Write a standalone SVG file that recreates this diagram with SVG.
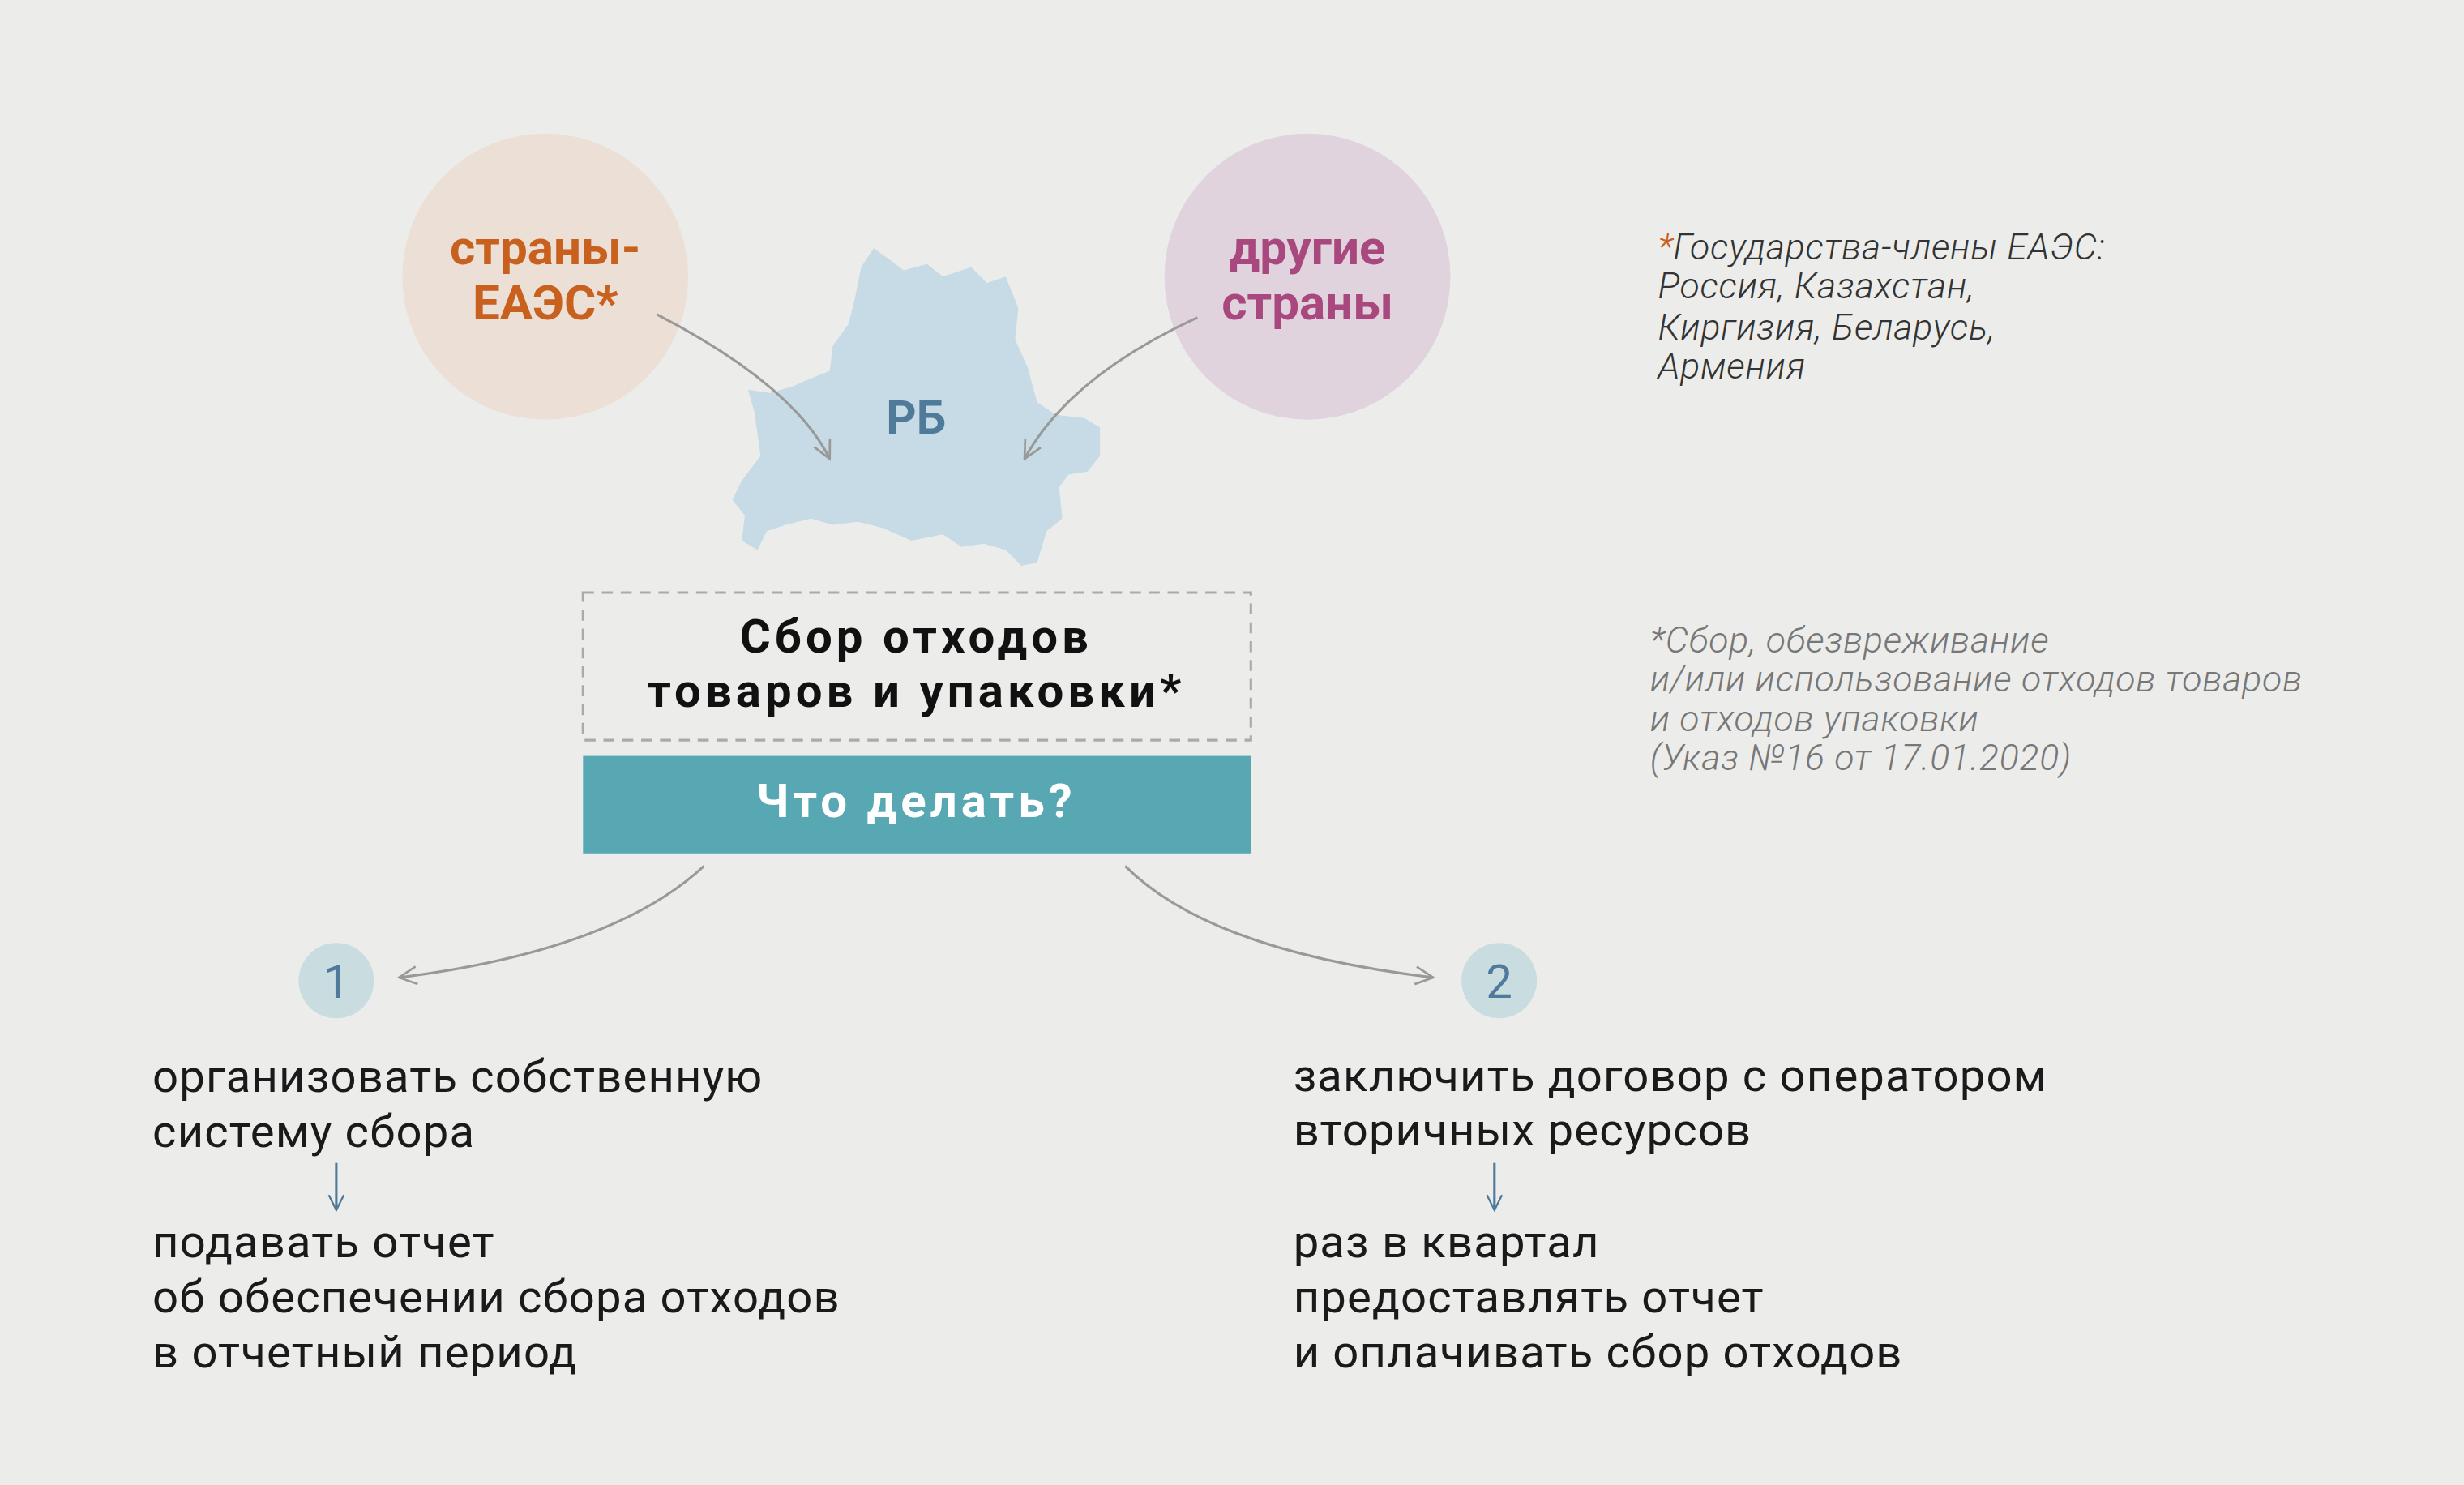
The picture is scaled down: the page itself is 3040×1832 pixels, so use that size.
<svg xmlns="http://www.w3.org/2000/svg" width="3040" height="1832" viewBox="0 0 3040 1832">
<defs>
<style>
.t{font-family:Roboto,"Noto Sans",sans-serif}
.b{font-weight:bold}
.ls{letter-spacing:2.6px}
.body{font-family:Roboto,"Noto Sans",sans-serif;font-size:29px;fill:#1a1a1a;letter-spacing:0.6px}
.note{font-family:Roboto,"Noto Sans",sans-serif;font-size:23px;font-style:italic;font-weight:300;letter-spacing:0.4px}
.con{fill:none;stroke:#999;stroke-width:1.6}
</style>
<marker id="ah" viewBox="0 0 20 20" refX="18" refY="10" markerWidth="14" markerHeight="14" markerUnits="userSpaceOnUse" orient="auto"><path d="M2,2 L18,10 L2,18" fill="none" stroke="#999" stroke-width="2"/></marker>
<marker id="ab" viewBox="0 0 20 20" refX="18" refY="10" markerWidth="12" markerHeight="12" markerUnits="userSpaceOnUse" orient="auto"><path d="M2,2 L18,10 L2,18" fill="none" stroke="#4f7a9a" stroke-width="2"/></marker>
</defs>
<rect width="3040" height="1832" fill="#ecedeb"/>
<g transform="scale(1.9388)">
<g id="map"><path d="M548,170 L556,158 L566,165 L575,172 L590,168 L600,176 L618,170 L628,180 L640,176 L648,196 L646,216 L654,234 L660,256 L672,264 L690,266 L700,272 L700,290 L692,300 L680,302 L674,310 L676,330 L666,338 L660,358 L650,360 L640,350 L626,346 L612,348 L600,340 L580,344 L562,336 L546,332 L530,334 L516,330 L500,334 L488,338 L482,350 L472,344 L474,328 L466,318 L472,306 L484,290 L480,262 L476,248 L490,250 L504,246 L518,240 L528,236 L530,220 L540,206 L544,190 Z" fill="#c6dbe6"/>
<text x="583" y="276" text-anchor="middle" class="t b" font-size="30" fill="#4f7a9a">РБ</text></g>
<g id="eaes"><circle cx="347" cy="176" r="91" fill="#ecdfd6"/>
<text x="347" y="168" text-anchor="middle" class="t b" font-size="31" fill="#c8601e">страны-</text>
<text x="347" y="203" text-anchor="middle" class="t b" font-size="31" fill="#c8601e">ЕАЭС*</text></g>
<g id="other"><circle cx="832" cy="176" r="91" fill="#e0d3de"/>
<text x="832" y="168" text-anchor="middle" class="t b" font-size="31" fill="#a8487e">другие</text>
<text x="832" y="203" text-anchor="middle" class="t b" font-size="31" fill="#a8487e">страны</text></g>
<g id="collect"><rect x="371" y="377" width="425" height="94" fill="none" stroke="#aaa" stroke-width="1.6" stroke-dasharray="7,5"/>
<text x="583" y="415" text-anchor="middle" class="t b ls" font-size="30" fill="#111">Сбор отходов</text>
<text x="583" y="450" text-anchor="middle" class="t b ls" font-size="30" fill="#111">товаров и упаковки*</text></g>
<g id="what"><rect x="371" y="481" width="425" height="62" fill="#58a8b3"/>
<text x="583" y="520" text-anchor="middle" class="t b ls" font-size="30" fill="#fff">Что делать?</text></g>
<g id="n1"><circle cx="214" cy="624" r="24" fill="#c9dce0"/><text x="214" y="635" text-anchor="middle" class="t" font-size="30" fill="#4f7a9a">1</text></g>
<g id="n2"><circle cx="954" cy="624" r="24" fill="#c9dce0"/><text x="954" y="635" text-anchor="middle" class="t" font-size="30" fill="#4f7a9a">2</text></g>
<g id="left" class="body"><text x="97" y="695">организовать собственную</text><text x="97" y="730">систему сбора</text>
<text x="97" y="800">подавать отчет</text><text x="97" y="835">об обеспечении сбора отходов</text><text x="97" y="870">в отчетный период</text></g>
<g id="right" class="body"><text x="823" y="694">заключить договор с оператором</text><text x="823" y="729">вторичных ресурсов</text>
<text x="823" y="800">раз в квартал</text><text x="823" y="835">предоставлять отчет</text><text x="823" y="870">и оплачивать сбор отходов</text></g>
<g id="note1" class="note" fill="#333"><text x="1055" y="165"><tspan fill="#c8601e">*</tspan>Государства-члены ЕАЭС:</text><text x="1055" y="190">Россия, Казахстан,</text><text x="1055" y="216">Киргизия, Беларусь,</text><text x="1055" y="241">Армения</text></g>
<g id="note2" class="note" fill="#777"><text x="1050" y="415">*Сбор, обезвреживание</text><text x="1050" y="440">и/или использование отходов товаров</text><text x="1050" y="465">и отходов упаковки</text><text x="1050" y="490">(Указ №16 от 17.01.2020)</text></g>
<g id="connectors">
<path class="con" d="M418,200 Q505,245 528,292" marker-end="url(#ah)"/>
<path class="con" d="M762,202 Q680,240 652,292" marker-end="url(#ah)"/>
<path class="con" d="M448,551 Q390,605 254,622" marker-end="url(#ah)"/>
<path class="con" d="M716,551 Q770,605 912,622" marker-end="url(#ah)"/>
<path d="M214,740 L214,770" fill="none" stroke="#4f7a9a" stroke-width="1.6" marker-end="url(#ab)"/>
<path d="M951,740 L951,770" fill="none" stroke="#4f7a9a" stroke-width="1.6" marker-end="url(#ab)"/>
</g>
</g>
</svg>
